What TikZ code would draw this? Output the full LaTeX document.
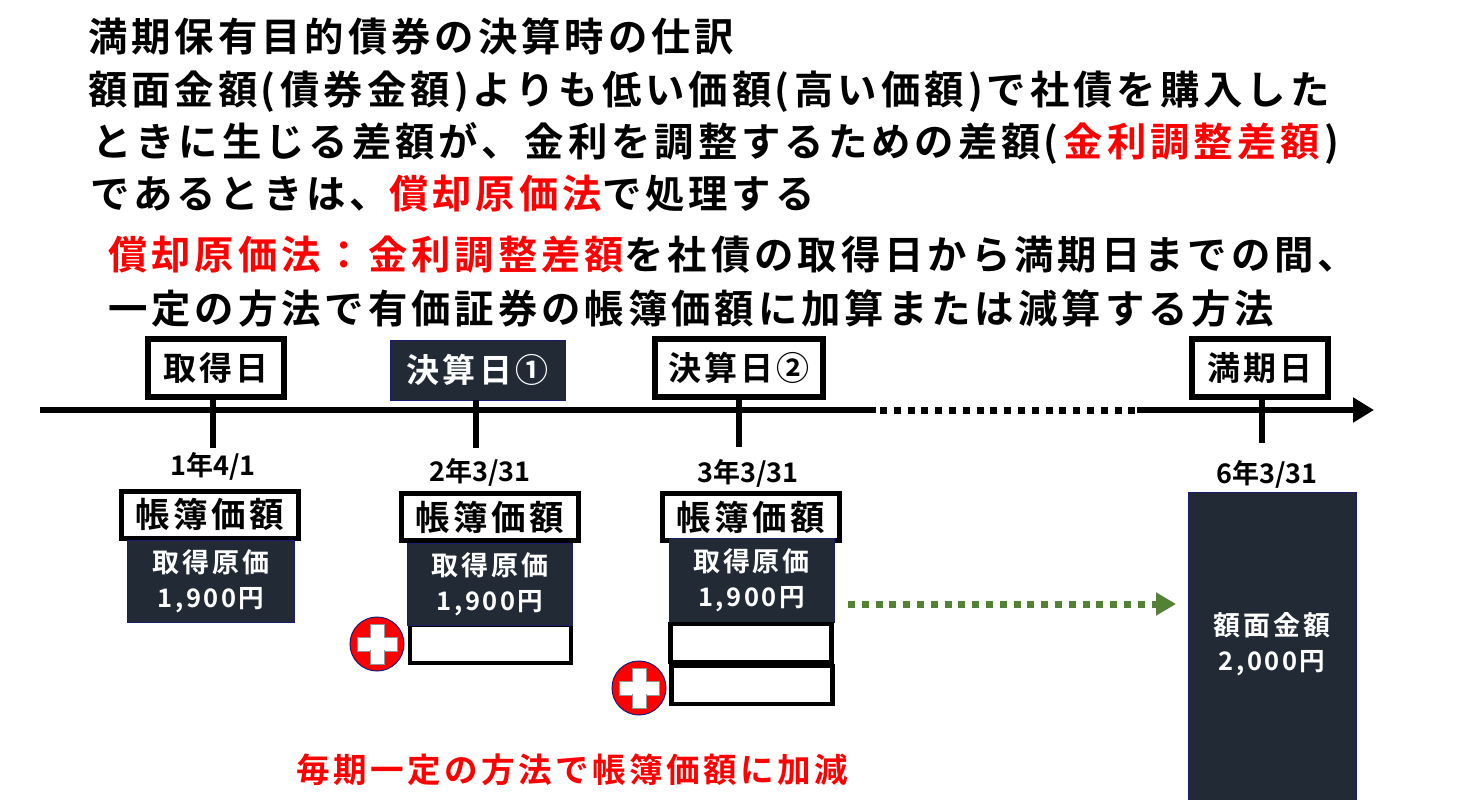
\documentclass[tikz,border=0pt]{standalone}
\usepackage{fontspec}
\setmainfont{Noto Sans CJK JP}[BoldFont={* Bold},LetterSpace=10]
\usetikzlibrary{arrows.meta}
\definecolor{navy}{HTML}{222A35}
\definecolor{arrowgreen}{HTML}{548235}
\newcommand{\fsize}[1]{\fontsize{#1}{#1}\bfseries\selectfont}
\newcommand{\lpar}{\kern3pt(\kern5pt}
\newcommand{\rpar}{\kern5pt)\kern3pt}
\newcommand{\redtext}[1]{\textcolor{red}{#1}}
\newcommand{\yen}[1]{{\fsize{25.5}#1円}}
\tikzset{
	title/.style={anchor=west, inner sep=0, font=\fsize{39.4}},
	daybox/.style={draw, line width=6pt, fill=white, minimum width=136, minimum height=58, inner sep=0, font=\fsize{33}},
	bookbox/.style={draw, line width=5pt, fill=white, minimum width=177, minimum height=47, inner sep=0, font=\fsize{34.5}},
	navybox/.style={fill=navy, draw=navy!70!blue, line width=.8pt, text=white, align=center, inner sep=0, font=\fsize{27}},
	addbox/.style={draw, line width=4.5pt, fill=white, minimum width=161, minimum height=38, inner sep=0},
	datetext/.style={inner sep=0, font=\fsize{27}\addfontfeatures{LetterSpace=0}},
	plusmark/.style={circle, fill=red, draw=navy!70!blue, line width=1pt, minimum size=54, inner sep=0},
	plusbar/.style={fill=white, draw=navy!50, line width=.6pt, minimum width=#1, inner sep=0},
	axis/.style={line width=6pt},
	tick/.style={line width=6pt},
	dotline/.style={line width=7pt, dash pattern=on 7pt off 6.8pt},
}
\begin{document}
\begin{tikzpicture}[x=1pt, y=-1pt]
	\useasboundingbox(0, 0) rectangle (1476, 800);
	\node[title] (head1) at (88, 37) {満期保有目的債券の決算時の仕訳};
	\node[title] (head2) at (88, 92) {額面金額\lpar 債券金額\rpar よりも低い価額\lpar 高い価額\rpar で社債を購入した};
	\node[title] (head3) at (92, 143) {ときに生じる差額が、金利を調整するための差額\lpar\redtext{金利調整差額}\rpar};
	\node[title] (head4) at (90, 194) {であるときは、\redtext{償却原価法}で処理する};
	\node[title] (defn1) at (108, 255) {\redtext{償却原価法：金利調整差額}を社債の取得日から満期日までの間、};
	\node[title] (defn2) at (108, 309) {一定の方法で有価証券の帳簿価額に加算または減算する方法};
	% time line
	\coordinate (start) at (40, 410);
	\coordinate (dotsl) at (880, 410);
	\coordinate (dotsr) at (1137, 410);
	\coordinate (end) at (1374, 410);
	\draw[axis](start)--(876, 410);
	\draw[dotline](dotsl)--(dotsr);
	\draw[axis, -{Triangle[length=21pt, width=24pt]}](dotsr)--(end);
	% days
	\node[daybox] (day0) at (216, 368) {取得日};
	\node[navybox, minimum width=175, minimum height=60, font=\fsize{33}] (day1) at (477.5, 370) {決算日①};
	\node[daybox, minimum width=168] (day2) at (739, 368) {決算日②};
	\node[daybox] (day3) at (1260, 368) {満期日};
	\coordinate (tick0) at (213, 448);
	\coordinate (tick1) at (476, 448);
	\coordinate (tick2) at (739, 447);
	\coordinate (tick3) at (1262, 443);
	\draw[tick](tick0|-day0.south)--(tick0);
	\draw[tick](tick1|-day1.south)--(tick1);
	\draw[tick](tick2|-day2.south)--(tick2);
	\draw[tick](tick3|-day3.south)--(tick3);
	\node[datetext] (date0) at (213, 466) {1年4/1};
	\node[datetext] (date1) at (480, 472) {2年3/31};
	\node[datetext] (date2) at (748, 473) {3年3/31};
	\node[datetext] (date3) at (1267, 474) {6年3/31};
	% first column
	\node[bookbox] (book0) at (210, 514.5) {帳簿価額};
	\node[navybox, minimum width=167, minimum height=82] (cost0) at (211, 581) {取得原価\\[8pt]\yen{1,900}};
	% second column
	\node[bookbox] (book1) at (490, 517) {帳簿価額};
	\node[addbox] (add1) at (490.5, 644) {};
	\node[navybox, minimum width=165, minimum height=82] (cost1) at (490, 584) {取得原価\\[8pt]\yen{1,900}};
	\node[plusmark] (plus1) at (377, 644) {};
	\node[plusbar=40, minimum height=14] at (plus1) {};
	\node[plusbar=14, minimum height=40] at (plus1) {};
	\node[fill=white, minimum width=38, minimum height=12, inner sep=0] at (plus1) {};
	% third column
	\node[bookbox] (book2) at (751, 517) {帳簿価額};
	\node[navybox, minimum width=165, minimum height=84] (cost2) at (751.5, 580) {取得原価\\[8pt]\yen{1,900}};
	\node[addbox] (add2) at (751, 643) {};
	\node[addbox] (add3) at (752, 685) {};
	\node[plusmark] (plus2) at (639, 688) {};
	\node[plusbar=40, minimum height=14] at (plus2) {};
	\node[plusbar=14, minimum height=40] at (plus2) {};
	\node[fill=white, minimum width=38, minimum height=12, inner sep=0] at (plus2) {};
	% maturity
	\node[navybox, minimum width=168, minimum height=310] (face) at (1272, 647) {};
	\node[inner sep=0, text=white, align=center, font=\fsize{27}] (facetext) at (1272, 644) {額面金額\\[8pt]\yen{2,000}};
	\coordinate (from) at (848, 604);
	\coordinate (to) at (1176, 604);
	\draw[dotline, arrowgreen, -{Triangle[length=20pt, width=22pt]}](from)--(to);
	\node[inner sep=0, text=red, font=\fsize{33.6}] (note) at (572.5, 770) {毎期一定の方法で帳簿価額に加減};
\end{tikzpicture}
\end{document}
